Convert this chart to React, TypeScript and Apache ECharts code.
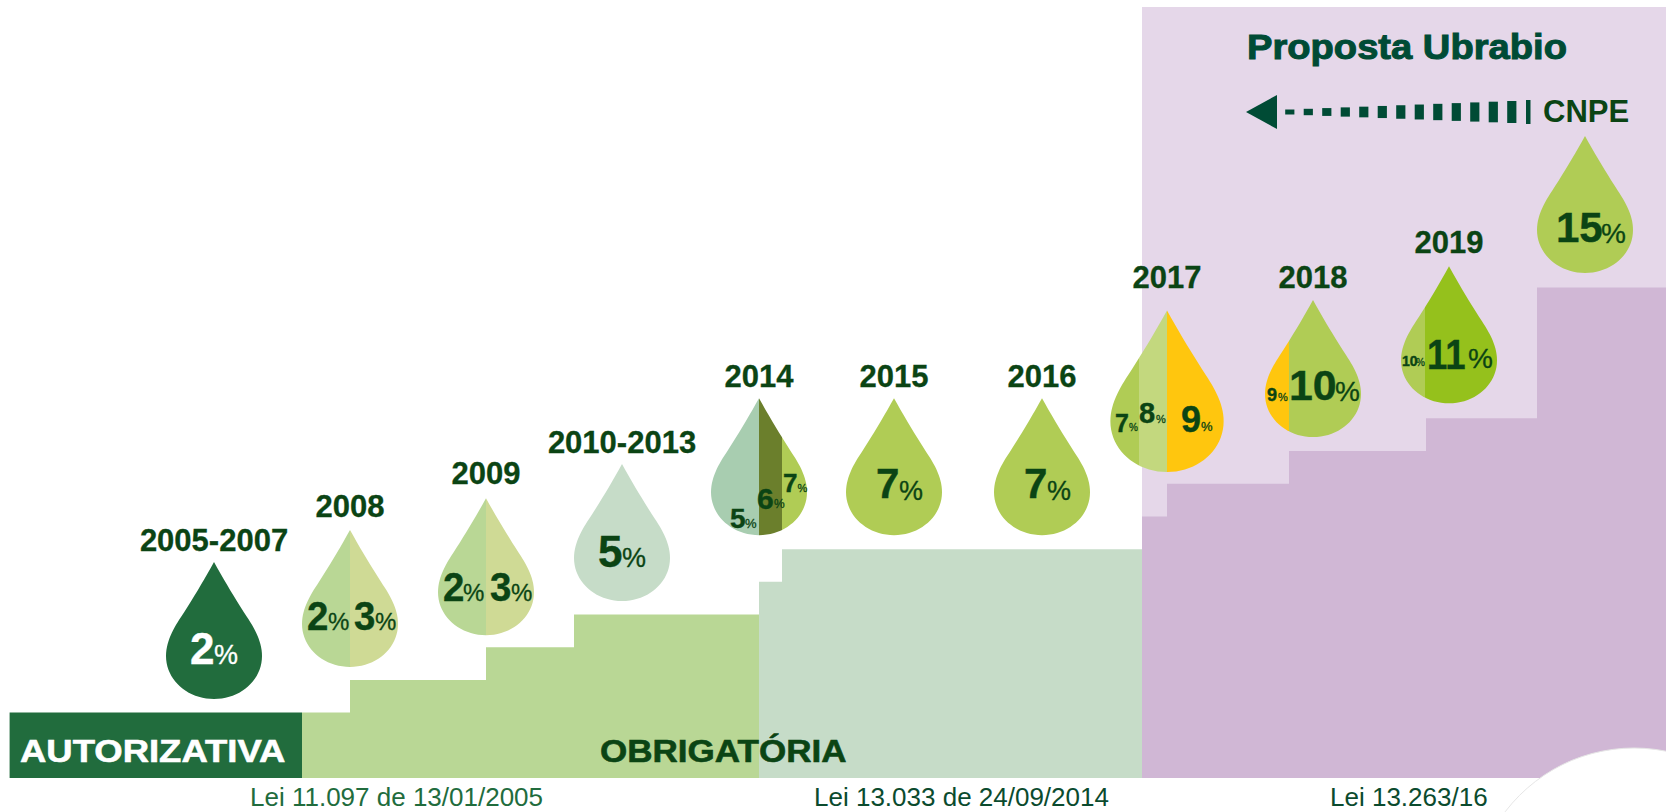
import React, { useEffect, useRef } from "react";
import * as echarts from "echarts";

// ---------- values ----------
// Step levels (% biodiesel blend)
const autorizativaLevels = [2];
const obrigatoriaLevels = [2, 3, 4, 5];
const lei13033Levels = [6, 7];
const lei13263Levels = [8, 9, 10, 11, 15];

// Drops
const dropYears = ["2005-2007", "2008", "2009", "2010-2013", "2014", "2015", "2016", "2017", "2018", "2019", ""];
const dropLevels = [2, 3, 4, 5, 7, 7, 7, 9, 10, 11, 15];
const dropShares = [["2"], ["2", "3"], ["2", "3"], ["5"], ["5", "6", "7"], ["7"], ["7"], ["7", "8", "9"], ["9", "10"], ["10", "11"], ["15"]];

const segmentTitles = ["AUTORIZATIVA", "OBRIGATÓRIA"];
const lawLabels = ["Lei 11.097 de 13/01/2005", "Lei 13.033 de 24/09/2014", "Lei 13.263/16"];
const proposalTitle = "Proposta Ubrabio";
const proposalSource = "CNPE";

// ---------- layout and style, separate from the values ----------
const W = 1666;
const H = 812;
const FONT = '"Liberation Sans", Arial, sans-serif';
const DARK = "#0B4414";
const TEAL = "#004B35";
const C_AUT = "#216C3D";
const C_OBR = "#B9D795";
const C_LEI = "#C6DCC8";
const C_PUR = "#D0B7D5";
const C_PUR_BG = "#E5D7E9";
const C_LIME = "#B0CC55";
const C_LIGHT = "#C3D87E";
const C_YEL = "#FFC60E";

const stepEdges = [
  { colour: C_AUT, xs: [9.6, 302] },
  { colour: C_OBR, xs: [302, 350, 486, 574, 759] },
  { colour: C_LEI, xs: [759, 782, 1142] },
  { colour: C_PUR, xs: [1142, 1167, 1289, 1426, 1537, 1666] },
];
const stepLevelGroups = [autorizativaLevels, obrigatoriaLevels, lei13033Levels, lei13263Levels];

const dropX = [214, 350, 486, 622, 759, 894, 1042, 1167, 1313, 1449, 1585];
const dropGap = [13.6, 13, 12, 13.5, 14, 14, 14, 11.7, 14, 15, 14.6];
const dropScale = [1, 1, 1, 1, 1, 1, 1, 1.18, 1, 1, 1];
const yearGap = [11, 13, 14, 11, 11, 11, 11, 22, 12, 13.5, 0];
// vertical cuts of each drop (px from centre) and the colour of each band
const dropCuts = [[], [0], [0], [], [0, 23], [], [], [-28, 0], [-24], [-24], []];
const dropFills = [
  [C_AUT],
  [C_OBR, "#CFDA95"],
  [C_OBR, "#CFDA95"],
  [C_LEI],
  ["#A8CDB0", "#6B7F2C", C_LIME],
  [C_LIME],
  [C_LIME],
  [C_LIME, C_LIGHT, C_YEL],
  [C_YEL, C_LIME],
  [C_LIME, "#95C11C"],
  [C_LIME],
];
// per share: digit dx, digit dy (baseline from drop bottom), digit size, % dx, % dy, % size, digit x-scale
const shareLayout = [
  [[-24, -35, 44, 0, -35, 27, 1]],
  [[-43, -37, 40, -22, -37, 24, 0.96], [4, -37, 40, 25, -37, 24, 0.96]],
  [[-43, -34, 40, -23, -34, 24, 0.96], [4, -34, 40, 25, -34, 24, 0.96]],
  [[-24, -34, 44, 0, -34, 27, 1]],
  [[-29, -7, 28, -14, -7, 13, 1], [-2, -26, 30, 15, -27, 12, 1], [24, -43, 26, 38.5, -43, 11, 1]],
  [[-18, -37, 42, 5, -35, 27, 1]],
  [[-18, -37, 42, 5, -35, 27, 1]],
  [[-52, -40, 26, -38, -41, 10, 0.96], [-28, -49, 29, -11, -49, 11, 1], [14, -40, 36, 34, -41, 13, 1]],
  [[-46, -36, 18, -35, -36, 11, 1], [-24, -37, 42, 22, -36, 28, 1.02]],
  [[-47, -37, 14, -33, -37, 10, 1], [-22, -35, 42, 19, -35, 28, 0.87]],
  [[-29, -31, 42, 16, -30, 28, 1]],
];

// Outline of the unit drop: tip at (0,0), bottom at (0,137), half width 48
function cubic(p0: number[], p1: number[], p2: number[], p3: number[], n: number) {
  const out: number[][] = [];
  for (let i = 1; i <= n; i++) {
    const t = i / n;
    const u = 1 - t;
    out.push([
      u * u * u * p0[0] + 3 * u * u * t * p1[0] + 3 * u * t * t * p2[0] + t * t * t * p3[0],
      u * u * u * p0[1] + 3 * u * u * t * p1[1] + 3 * u * t * t * p2[1] + t * t * t * p3[1],
    ]);
  }
  return out;
}
const rightSide: number[][] = [
  [0, 0],
  ...cubic([0, 0], [11, 20], [22, 38], [33, 55], 10),
  ...cubic([33, 55], [41, 67], [48, 80], [48, 94], 14),
  ...cubic([48, 94], [48, 118], [26.5, 137], [0, 137], 20),
];
const dropOutline: number[][] = [
  ...rightSide,
  ...rightSide.slice(1, -1).reverse().map((p) => [-p[0], p[1]]),
];

function clipX(poly: number[][], x: number, keepRight: boolean) {
  const out: number[][] = [];
  const inside = (p: number[]) => (keepRight ? p[0] >= x : p[0] <= x);
  for (let i = 0; i < poly.length; i++) {
    const a = poly[i];
    const b = poly[(i + 1) % poly.length];
    if (inside(a)) out.push(a);
    if (inside(a) !== inside(b)) {
      const t = (x - a[0]) / (b[0] - a[0]);
      out.push([x, a[1] + t * (b[1] - a[1])]);
    }
  }
  return out;
}

const label = (text: string, x: number, baseline: number, size: number, fill: string, weight: string, align = "left", scaleX = 1, embolden = 0) => ({
  type: "text",
  x,
  y: baseline - size * 0.347,
  scaleX,
  z2: 5,
  silent: true,
  style: {
    text,
    fill,
    align,
    verticalAlign: "middle",
    font: `${weight} ${size}px ${FONT}`,
    ...(embolden ? { stroke: fill, lineWidth: embolden } : {}),
  },
});

const arrowBars = Array.from({ length: 13 }, (_, i) => i);

function buildOption() {
  const stepData: any[] = [];
  stepEdges.forEach((g, gi) => {
    stepLevelGroups[gi].forEach((level, i) => {
      stepData.push([g.xs[i], g.xs[i + 1], level, g.colour]);
    });
  });

  const graphicEls: any[] = [
    { type: "rect", z: 0, silent: true, shape: { x: 1142, y: 7, width: W - 1142, height: 771 }, style: { fill: C_PUR_BG } },
    { type: "circle", z: 100, silent: true, shape: { cx: 1634, cy: 910, r: 162 }, style: { fill: "#fff", stroke: "#e6e6e6", lineWidth: 1 } },
    { type: "polygon", z: 10, silent: true, shape: { points: [[1246, 112], [1277, 95], [1277, 129]] }, style: { fill: TEAL } },
    { type: "rect", z: 10, silent: true, shape: { x: 1526, y: 100, width: 4.5, height: 24 }, style: { fill: TEAL } },
    ...arrowBars.map((i) => ({
      type: "rect",
      z: 10,
      silent: true,
      shape: { x: 1285.2 + i * 18.5, y: 112 - (5 + i * 1.42) / 2, width: 9.2, height: 5 + i * 1.42 },
      style: { fill: TEAL },
    })),
    { ...label(proposalTitle, 1247, 59, 35, TEAL, "bold", "left", 1.09, 1), z: 10 },
    { ...label(proposalSource, 1543, 122, 31, DARK, "bold"), z: 10 },
    { ...label(segmentTitles[0], 20, 762, 32, "#fff", "bold", "left", 1.14, 0.6), z: 10 },
    { ...label(segmentTitles[1], 600, 762, 32, DARK, "bold", "left", 1.095, 0.6), z: 10 },
    { ...label(lawLabels[0], 250, 806, 26, C_AUT, "normal"), z: 10 },
    { ...label(lawLabels[1], 814, 806, 26, "#0B4B2E", "normal"), z: 10 },
    { ...label(lawLabels[2], 1330, 806, 26, "#0B4B2E", "normal"), z: 10 },
  ];

  return {
    animation: false,
    tooltip: { show: false },
    grid: { left: 0, right: 0, top: 26, bottom: 34 },
    xAxis: { type: "value", min: 0, max: W, show: false },
    yAxis: { type: "value", min: 0, max: 23, show: false },
    graphic: { elements: graphicEls },
    series: [
      {
        type: "custom",
        name: "degraus",
        clip: false,
        silent: true,
        z: 2,
        data: stepData,
        encode: { x: [0, 1], y: 2 },
        renderItem: (_p: any, api: any) => {
          const a = api.coord([api.value(0), api.value(2)]);
          const b = api.coord([api.value(1), 0]);
          return {
            type: "rect",
            shape: { x: a[0], y: a[1], width: b[0] - a[0], height: b[1] - a[1] },
            style: { fill: stepData[_p.dataIndex][3] },
          };
        },
      },
      {
        type: "custom",
        name: "gotas",
        clip: false,
        silent: true,
        z: 3,
        data: dropLevels.map((level, i) => [dropX[i], level]),
        encode: { x: 0, y: 1 },
        renderItem: (p: any, api: any) => {
          const i = p.dataIndex;
          const c = api.coord([api.value(0), api.value(1)]);
          const cx = c[0];
          const bottom = c[1] - dropGap[i];
          const s = dropScale[i];
          const tip = bottom - 137 * s;
          const children: any[] = [];
          const cuts = [-1000, ...dropCuts[i], 1000];
          for (let k = 0; k < cuts.length - 1; k++) {
            const scaled = dropOutline.map((q) => [q[0] * s, q[1] * s]);
            const band = clipX(clipX(scaled, cuts[k], true), cuts[k + 1], false);
            children.push({
              type: "polygon",
              shape: { points: band.map((q) => [cx + q[0], tip + q[1]]) },
              style: { fill: dropFills[i][k] },
            });
          }
          const textFill = i === 0 ? "#fff" : DARK;
          dropShares[i].forEach((v, k) => {
            const l = shareLayout[i][k];
            children.push(label(v, cx + l[0], bottom + l[1], l[2], textFill, "bold", "left", l[6], 0.4));
            children.push(label("%", cx + l[3], bottom + l[4], l[5], textFill, "normal", "left", 1, 0.3));
          });
          if (dropYears[i]) {
            children.push(label(dropYears[i], cx, tip - yearGap[i], 31, DARK, "bold", "center", 1, 0.3));
          }
          return { type: "group", children };
        },
      },
    ],
  };
}

export default function App() {
  const ref = useRef<HTMLDivElement>(null);
  useEffect(() => {
    document.body.style.margin = "0";
    const chart = echarts.init(ref.current!, undefined, { renderer: "svg" });
    chart.setOption(buildOption() as any);
    return () => chart.dispose();
  }, []);
  return <div ref={ref} style={{ width: W, height: H, background: "#fff" }} />;
}
